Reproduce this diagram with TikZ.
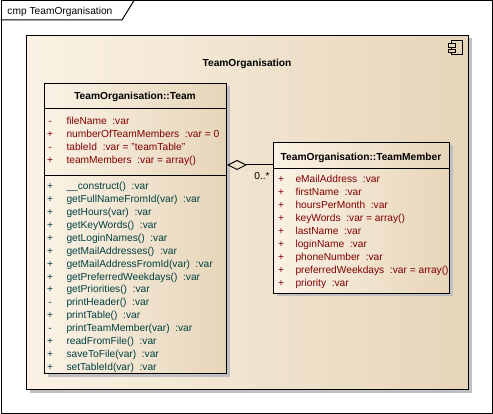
\documentclass[tikz,border=0pt]{standalone}
\usepackage{fontspec}
\setmainfont{Liberation Sans}
\usetikzlibrary{arrows.meta,shadows}
\definecolor{attr}{RGB}{128,0,0}
\definecolor{oper}{RGB}{0,64,64}
\definecolor{fillL}{RGB}{251,242,229}
\definecolor{fillR}{RGB}{230,213,185}
\definecolor{shadowc}{RGB}{192,192,192}
\begin{document}
\begin{tikzpicture}[x=1pt,y=-1pt,line width=1pt,
  font=\fontsize{10.2}{12}\selectfont,
  eabox/.style={draw=black, left color=fillL, right color=fillR, anchor=north west, inner sep=0pt,
    drop shadow={shadow xshift=3pt, shadow yshift=-3pt, fill=shadowc, opacity=1}},
  row/.style={anchor=base west, inner sep=0pt},
  vis/.style={anchor=base, inner sep=0pt},
  title/.style={anchor=base, inner sep=0pt, font=\fontsize{10.2}{12}\selectfont\bfseries},
  aggr/.style={{Diamond[open,length=20pt,width=10pt]}-, draw=black}]
\useasboundingbox (0,0) rectangle (493,414);
% frame
\node[draw=black, fill=white, anchor=north west, minimum width=491.5pt, minimum height=412.5pt, inner sep=0pt] (frame) at (0.5,0.5) {};
\draw (frame.north west) ++(0,19.5) coordinate (tabl) -- (122,20) -- (134,0.5);
\node[row] (frametitle) at (7,14.5) {cmp TeamOrganisation};
% component
\node[eabox, minimum width=442pt, minimum height=354pt] (comp) at (26,35) {};
\node[title] (comptitle) at (247,66.5) {TeamOrganisation};
\draw[fill=fillR] (451,41) rectangle (462,55);
\draw[fill=fillR] (448,44) rectangle (455,47.5);
\draw[fill=fillR] (448,49.5) rectangle (455,53);
% Team class
\node[eabox, minimum width=182pt, minimum height=290pt] (team) at (44,83) {};
\node[title] (teamtitle) at (135,100) {TeamOrganisation::Team};
\draw (44,109) -- (226,109);
\draw (44,176) -- (226,176);
\foreach \v/\t [count=\i from 0] in {
  -/{fileName~~:var},
  +/{numberOfTeamMembers~~:var = 0},
  -/{tableId~~:var = "teamTable"},
  +/{teamMembers~~:var = array()}} {
  \node[vis, text=attr] (tav\i) at (50,124.5+13*\i) {\v};
  \node[row, text=attr] (ta\i) at (66,124.5+13*\i) {\t};
}
\foreach \v/\t [count=\i from 0] in {
  +/{\textunderscore\textunderscore construct()~~:var},
  +/{getFullNameFromId(var)~~:var},
  +/{getHours(var)~~:var},
  +/{getKeyWords()~~:var},
  +/{getLoginNames()~~:var},
  +/{getMailAddresses()~~:var},
  +/{getMailAddressFromId(var)~~:var},
  +/{getPreferredWeekdays()~~:var},
  +/{getPriorities()~~:var},
  -/{printHeader()~~:var},
  +/{printTable()~~:var},
  -/{printTeamMember(var)~~:var},
  +/{readFromFile()~~:var},
  +/{saveToFile(var)~~:var},
  +/{setTableId(var)~~:var}} {
  \node[vis, text=oper] (tmv\i) at (50,189.5+12.93*\i) {\v};
  \node[row, text=oper] (tm\i) at (66,189.5+12.93*\i) {\t};
}
% TeamMember class
\node[eabox, minimum width=176pt, minimum height=151pt] (member) at (273,142) {};
\node[title] (membertitle) at (361,161) {TeamOrganisation::TeamMember};
\draw (273,169) -- (449,169);
\foreach \t [count=\i from 0] in {
  {eMailAddress~~:var},
  {firstName~~:var},
  {hoursPerMonth~~:var},
  {keyWords~~:var = array()},
  {lastName~~:var},
  {loginName~~:var},
  {phoneNumber~~:var},
  {preferredWeekdays~~:var = array()},
  {priority~~:var}} {
  \node[vis, text=attr] (mav\i) at (281,182.5+13*\i) {+};
  \node[row, text=attr] (ma\i) at (295,182.5+13*\i) {\t};
}
% aggregation
\coordinate (agg) at (0,165);
\draw[aggr] (team.east |- agg) -- (member.west |- agg);
\node[anchor=base, inner sep=0pt] (mult) at (262,179.5) {0..*};
\end{tikzpicture}
\end{document}
